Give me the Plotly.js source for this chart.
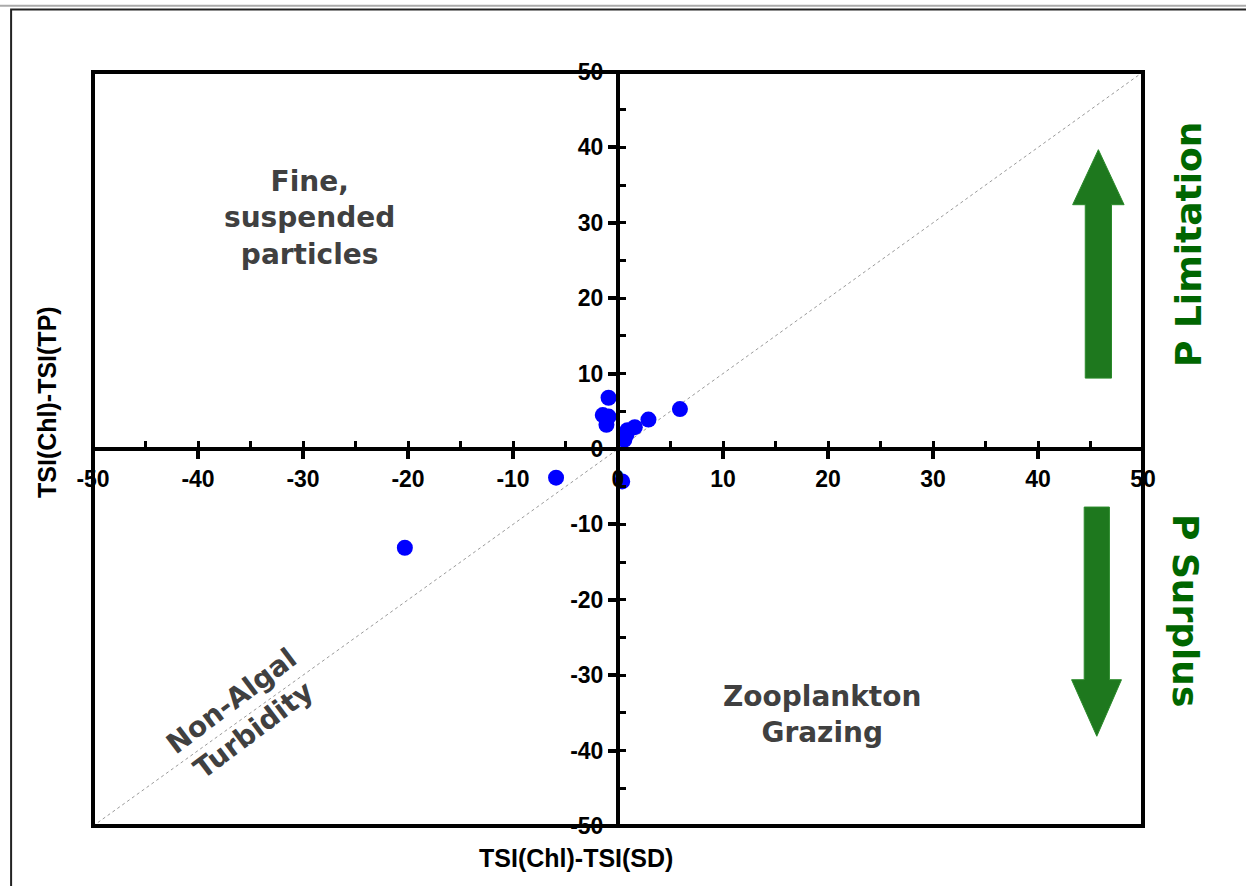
<!DOCTYPE html>
<html>
<head>
<meta charset="utf-8">
<script src="https://cdn.plot.ly/plotly-3.0.1.min.js"></script>
<style>
  html, body { margin: 0; padding: 0; background: #ffffff; }
  #chart { width: 1246px; height: 886px; }
</style>
</head>
<body>
<div id="chart"></div>
<script>
// ---- data ----
const chlMinusSD = [-0.9, -1.45, -0.9, -1.1, 0.9, 1.6, 2.9, 5.9, 0.6, 0.8, 0.4, -5.9, -20.3];
const chlMinusTP = [6.8, 4.5, 4.3, 3.2, 2.5, 2.9, 3.9, 5.3, 1.2, 1.9, -4.3, -3.8, -13.1];
const oneToOneX = [-50, 50];
const oneToOneY = [-50, 50];
const axisRange = [-50, 50];
const tickValues = [-50, -40, -30, -20, -10, 0, 10, 20, 30, 40, 50];
const tickLabels = ["-50", "-40", "-30", "-20", "-10", "0", "10", "20", "30", "40", "50"];
const minorStep = 5;

const titleFont = "Liberation Sans, Arial, sans-serif";
const labelFont = "DejaVu Sans, Lato, sans-serif";
const gray = "#404040";
const green = "#006600";
const arrowGreen = "#1E781E";

const traces = [
  {
    x: oneToOneX, y: oneToOneY, mode: "lines", type: "scatter",
    line: { color: "#9a9a9a", width: 1, dash: "dot" },
    hoverinfo: "skip", showlegend: false
  },
  {
    x: chlMinusSD, y: chlMinusTP, mode: "markers", type: "scatter",
    marker: { color: "#0000FF", size: 16 },
    showlegend: false
  }
];

const axisCommon = {
  range: axisRange,
  tickmode: "array",
  tickvals: tickValues,
  ticktext: tickLabels,
  showgrid: false,
  zeroline: false,
  showline: true,
  linecolor: "#000000",
  linewidth: 4,
  ticks: "outside",
  ticklen: 8,
  tickwidth: 4,
  tickcolor: "#000000",
  minor: { dtick: minorStep, tick0: 0, ticks: "inside", ticklen: 6, tickwidth: 3, tickcolor: "#000000" },
  tickfont: { family: titleFont, size: 23, color: "#000000", weight: "bold" },
  anchor: "free",
  position: 0.5,
  fixedrange: true
};

const layout = {
  width: 1246, height: 886,
  margin: { l: 93, r: 103, t: 72, b: 60 },
  paper_bgcolor: "#ffffff",
  plot_bgcolor: "#ffffff",
  showlegend: false,
  xaxis: Object.assign({}, axisCommon, { domain: [0, 1] }),
  yaxis: Object.assign({}, axisCommon, { domain: [0, 1] }),
  shapes: [
    // outer frame of the image
    { type: "line", xref: "paper", yref: "paper", x0: -0.09, x1: 1.2, y0: 1.088, y1: 1.088,
      line: { color: "#aaaaaa", width: 2 } },
    { type: "rect", xref: "paper", yref: "paper", x0: -0.078, x1: 1.15, y0: -0.2, y1: 1.083,
      line: { color: "#222222", width: 2 } },
    // plot box
    { type: "rect", xref: "paper", yref: "paper", x0: 0, x1: 1, y0: 0, y1: 1,
      line: { color: "#000000", width: 4 } },
    // up arrow
    { type: "path", xref: "x", yref: "y",
      path: "M 44.5 9.4 L 47.0 9.4 L 47.0 32.4 L 48.2 32.4 L 45.75 39.7 L 43.3 32.4 L 44.5 32.4 Z",
      fillcolor: arrowGreen, line: { color: "#2a8a2a", width: 1 } },
    // down arrow
    { type: "path", xref: "x", yref: "y",
      path: "M 44.4 -7.7 L 46.8 -7.7 L 46.8 -30.6 L 47.95 -30.6 L 45.6 -38.1 L 43.2 -30.6 L 44.4 -30.6 Z",
      fillcolor: arrowGreen, line: { color: "#2a8a2a", width: 1 } }
  ],
  annotations: [
    { text: "TSI(Chl)-TSI(SD)", xref: "paper", yref: "paper", x: (576 - 93) / 1050, y: -(858 - 826) / 754,
      showarrow: false, xanchor: "center", yanchor: "middle",
      font: { family: titleFont, size: 25, color: "#000000", weight: "bold" } },
    { text: "TSI(Chl)-TSI(TP)", xref: "paper", yref: "paper", x: (47 - 93) / 1050, y: (826 - 402) / 754,
      showarrow: false, textangle: -90, xanchor: "center", yanchor: "middle",
      font: { family: titleFont, size: 25, color: "#000000", weight: "bold" } },
    { text: "Fine,<br>suspended<br>particles", xref: "paper", yref: "paper",
      x: (309 - 93) / 1050, y: (826 - 218) / 754, showarrow: false, xanchor: "center", yanchor: "middle",
      font: { family: labelFont, size: 28, color: gray, weight: "bold" } },
    { text: "Zooplankton<br>Grazing", xref: "paper", yref: "paper",
      x: (822 - 93) / 1050, y: (826 - 714) / 754, showarrow: false, xanchor: "center", yanchor: "middle",
      font: { family: labelFont, size: 28, color: gray, weight: "bold" } },
    { text: "Non-Algal<br>Turbidity", xref: "paper", yref: "paper",
      x: (242 - 93) / 1050, y: (826 - 715) / 754, showarrow: false, textangle: -37,
      xanchor: "center", yanchor: "middle",
      font: { family: labelFont, size: 28, color: gray, weight: "bold" } },
    { text: "P Limitation", xref: "paper", yref: "paper",
      x: (1188 - 93) / 1050, y: (826 - 245) / 754, showarrow: false, textangle: -90,
      xanchor: "center", yanchor: "middle",
      font: { family: labelFont, size: 36, color: green, weight: "bold" } },
    { text: "P Surplus", xref: "paper", yref: "paper",
      x: (1185 - 93) / 1050, y: (826 - 610) / 754, showarrow: false, textangle: 90,
      xanchor: "center", yanchor: "middle",
      font: { family: labelFont, size: 36, color: green, weight: "bold" } }
  ]
};

Plotly.newPlot("chart", traces, layout, { displayModeBar: false, staticPlot: true });
</script>
</body>
</html>
